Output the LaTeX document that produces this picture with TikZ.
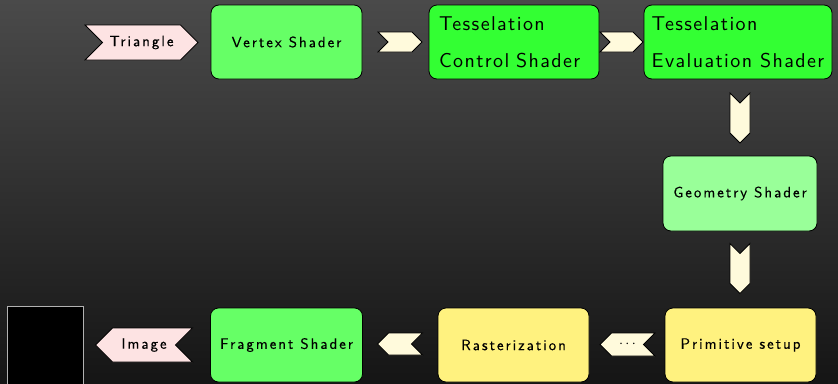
\documentclass[tikz,border=0pt]{standalone}
\usepackage{fontspec}
\newfontfamily\smallsans{lmsans10-regular.otf}[LetterSpace=13,FakeBold=0.3]
\newfontfamily\bigsans{lmsans10-regular.otf}[LetterSpace=7]
\usetikzlibrary{shapes.symbols}
\definecolor{bgtop}{HTML}{4A4A4A}
\definecolor{bgbot}{HTML}{151515}
\definecolor{vgreen}{HTML}{66FF66}
\definecolor{tgreen}{HTML}{33FF33}
\definecolor{ggreen}{HTML}{99FF99}
\definecolor{pyellow}{HTML}{FFF27F}
\definecolor{spink}{HTML}{FDE3E3}
\definecolor{chev}{HTML}{FFFADC}
\tikzset{
  box/.style={draw=black, line width=0.8pt, rounded corners=8pt, inner sep=0pt,
    font=\smallsans\fontsize{15}{17}\selectfont},
  bigbox/.style={box, font=\bigsans\fontsize{20}{37}\selectfont, align=left},
  sig/.style={shape=signal, draw=black, line width=0.8pt, fill=spink, inner sep=0pt,
    font=\smallsans\fontsize{15}{17}\selectfont},
  chevron/.style={shape=signal, draw=black, line width=0.8pt, fill=chev, inner sep=0pt,
    font=\smallsans\fontsize{15}{17}\selectfont},
}
\begin{document}
\begin{tikzpicture}[x=1pt,y=-1pt]
\shade[top color=bgtop, bottom color=bgbot] (0,0) rectangle (838,383);
\useasboundingbox (0,0) rectangle (838,383);
% top row
\node[sig, signal from=west, signal to=east, minimum width=113pt, minimum height=35pt] (tri) at (141.5,42.5) {Triangle};
\node[box, fill=vgreen, minimum width=151pt, minimum height=74pt] (vs) at (286.5,42) {Vertex Shader};
\node[chevron, signal from=west, signal to=east, minimum width=44pt, minimum height=20pt] (a1) at (400,42) {};
\node[bigbox, fill=tgreen, minimum width=170pt, minimum height=74pt, text width=150pt] (tcs) at (514,42) {Tesselation\\Control Shader};
\node[chevron, signal from=west, signal to=east, minimum width=43pt, minimum height=20pt] (a2) at (621.5,42) {};
\node[bigbox, fill=tgreen, minimum width=188pt, minimum height=74pt] (tes) at (738,42) {Tesselation\\Evaluation Shader};
% right column
\node[chevron, signal from=north, signal to=south, minimum width=20pt, minimum height=30pt] (a3) at (740,118) {};
\node[box, fill=ggreen, minimum width=154pt, minimum height=75pt] (gs) at (740,193.5) {Geometry Shader};
\node[chevron, signal from=north, signal to=south, minimum width=20pt, minimum height=30pt] (a4) at (740,268.5) {};
% bottom row
\node[box, fill=pyellow, minimum width=151pt, minimum height=74pt] (ps) at (740.5,345) {Primitive setup};
\node[chevron, signal from=east, signal to=west, minimum width=55pt, minimum height=23pt] (a5) at (627.5,344.5) {$\cdots$};
\node[box, fill=pyellow, minimum width=151pt, minimum height=74pt] (ra) at (513.5,345) {Rasterization};
\node[chevron, signal from=east, signal to=west, minimum width=45pt, minimum height=22pt] (a6) at (400,344) {};
\node[box, fill=vgreen, minimum width=152pt, minimum height=74pt] (fs) at (286.5,345) {Fragment Shader};
\node[sig, signal from=east, signal to=west, minimum width=97pt, minimum height=34pt] (img) at (144,345) {Image};
\node[draw=black!30!white, fill=black, line width=1pt, minimum width=76pt, minimum height=78pt, inner sep=0pt] (out) at (45,345) {};
\end{tikzpicture}
\end{document}
